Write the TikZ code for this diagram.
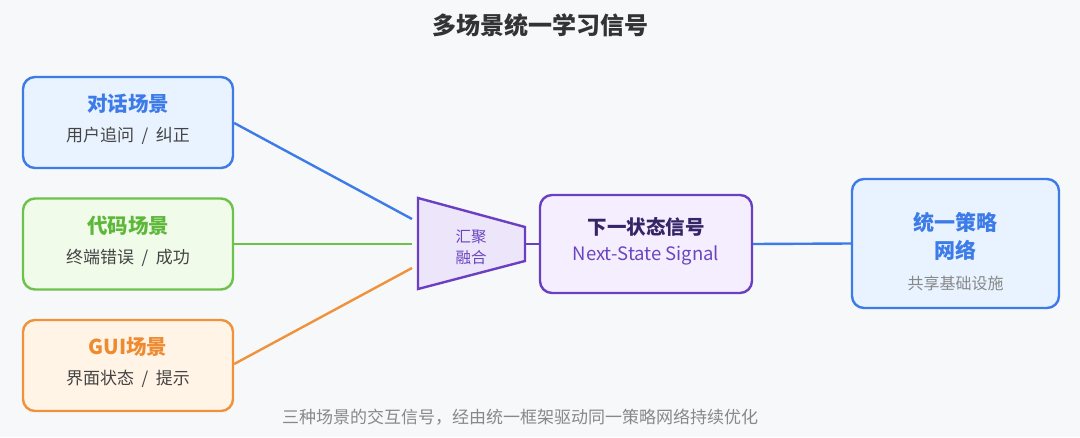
\documentclass[tikz,border=0pt]{standalone}
\usepackage{fontspec}
\setmainfont{Noto Sans CJK SC}
\newcommand{\sep}{\hspace{0.45em}/\hspace{0.45em}}
\begin{document}
\begin{tikzpicture}[x=1pt,y=-1pt,
  box/.style={draw,line width=2.4pt,rounded corners=12pt,inner sep=0pt},
  ttl/.style={font=\fontsize{20.5}{24}\selectfont\bfseries},
  sub/.style={font=\fontsize{17}{20}\selectfont,text=subgray},
  conn/.style={line width=2.4pt}]
\definecolor{bg}{HTML}{F7F8FA}
\definecolor{bluestroke}{HTML}{3D7BE8}
\definecolor{bluefill}{HTML}{E8F3FF}
\definecolor{greenstroke}{HTML}{6CC24A}
\definecolor{greenfill}{HTML}{F1FBEA}
\definecolor{greentext}{HTML}{5DB83A}
\definecolor{orangestroke}{HTML}{F0923B}
\definecolor{orangefill}{HTML}{FFF4E6}
\definecolor{orangetext}{HTML}{EE8A30}
\definecolor{purplestroke}{HTML}{6B3FC2}
\definecolor{purplefill}{HTML}{EDE6FB}
\definecolor{nextfill}{HTML}{F4EEFF}
\definecolor{purpletext}{HTML}{6B45C0}
\definecolor{darktitle}{HTML}{352566}
\definecolor{subgray}{HTML}{444444}
\definecolor{lightgray}{HTML}{888888}
\definecolor{titlegray}{HTML}{333333}
\fill[bg] (0,0) rectangle (1080,437);
\useasboundingbox (0,0) rectangle (1080,437);

\node[font=\fontsize{24}{28}\selectfont\bfseries,text=titlegray] (title) at (540,25) {多场景统一学习信号};

% left boxes
\node[box,draw=bluestroke,fill=bluefill,minimum width=210pt,minimum height=91pt] (dlg) at (128,122.5) {};
\node[ttl,text=bluestroke] (dlgT) at (128,104) {对话场景};
\node[sub] (dlgS) at (128,136) {用户追问\sep 纠正};

\node[box,draw=greenstroke,fill=greenfill,minimum width=210pt,minimum height=91pt] (code) at (128,244) {};
\node[ttl,text=greentext] (codeT) at (128,226) {代码场景};
\node[sub] (codeS) at (128,258) {终端错误\sep 成功};

\node[box,draw=orangestroke,fill=orangefill,minimum width=210pt,minimum height=91pt] (gui) at (128,365.5) {};
\node[ttl,text=orangetext] (guiT) at (128,347) {GUI场景};
\node[sub] (guiS) at (128,379) {界面状态\sep 提示};

% funnel
\coordinate (fa) at (418,198);
\coordinate (fb) at (525,227);
\coordinate (fc) at (525,261);
\coordinate (fd) at (418,289);
\draw[line width=2.4pt,draw=purplestroke,fill=purplefill,line join=miter] (fa) -- (fb) -- (fc) -- (fd) -- cycle;
\node[font=\fontsize{15.5}{21.5}\selectfont,text=purpletext,align=center] (funnel) at (471,247.5) {汇聚\\融合};
\coordinate (inA) at (412,219);
\coordinate (inB) at (412,244);
\coordinate (inC) at (412,268);
\coordinate (fout) at (525,244);

% next state box
\node[box,draw=purplestroke,fill=nextfill,minimum width=212pt,minimum height=98pt] (next) at (646,244) {};
\node[font=\fontsize{19.5}{23}\selectfont\bfseries,text=darktitle] (nextT) at (646,227) {下一状态信号};
\node[font=\fontsize{18.5}{21}\selectfont,text=purpletext] (nextS) at (646,255) {Next-State Signal};

% unified box
\node[box,draw=bluestroke,fill=bluefill,minimum width=207pt,minimum height=129pt] (uni) at (955.5,243.5) {};
\node[text=bluestroke,align=center,font=\fontsize{21}{28}\selectfont\bfseries] (uniT) at (955.5,236) {统一策略\\网络};
\node[font=\fontsize{16}{19}\selectfont,text=lightgray] (uniS) at (955.5,283) {共享基础设施};

% connectors
\draw[conn,bluestroke] (dlg.east |- 0,123) -- (inA);
\draw[conn,greenstroke] (code.east) -- (inB);
\draw[conn,orangestroke] (gui.east |- 0,364) -- (inC);
\draw[conn,purplestroke] (fout) -- (next.west);
\draw[conn,bluestroke] (next.east) -- (uni.west);

\node[font=\fontsize{17}{20}\selectfont,text=lightgray] (foot) at (520,417) {三种场景的交互信号，经由统一框架驱动同一策略网络持续优化};
\end{tikzpicture}
\end{document}
